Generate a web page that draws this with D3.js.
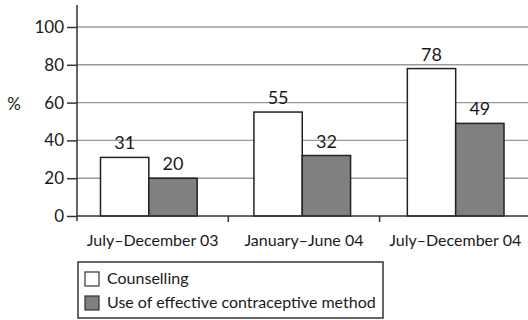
<!DOCTYPE html>
<html>
<head>
<meta charset="utf-8">
<script src="https://cdn.jsdelivr.net/npm/d3@7"></script>
<style>
  html, body { margin: 0; padding: 0; background: #fff; }
  svg { display: block; }
  text { font-family: Lato, "Open Sans", sans-serif; fill: #1a1a1a; }
</style>
</head>
<body>
<svg id="chart" width="528" height="320"></svg>
<script>
// Periods, series and values
const categories = ["July\u2013December 03", "January\u2013June 04", "July\u2013December 04"];
const seriesNames = ["Counselling", "Use of effective contraceptive method"];
const counselling = [31, 55, 78];
const contraceptive = [20, 32, 49];
const yTicks = [0, 20, 40, 60, 80, 100];
const seriesColors = ["#ffffff", "#808080"];

const svg = d3.select("#chart");
const W = 528;
const plotLeft = 77, plotTop = 5, plotBottom = 216;

const y = d3.scaleLinear().domain([0, 100]).range([plotBottom, 27]);
// Axis bands (tick marks and labels)
const xAxisBand = d3.scaleBand().domain(categories).range([plotLeft, plotLeft + 3 * 151.3]).padding(0);
// Bar-group bands
const xGroup = d3.scaleBand().domain(categories).range([100.5, 504])
  .paddingInner(0.37).paddingOuter(0);
const x1 = d3.scaleBand().domain(seriesNames).range([0, xGroup.bandwidth()]).padding(0);

// Horizontal grid
svg.append("g")
  .selectAll("line")
  .data(yTicks.filter(d => d > 0))
  .join("line")
  .attr("x1", plotLeft).attr("x2", W)
  .attr("y1", d => y(d)).attr("y2", d => y(d))
  .attr("stroke", "#999").attr("stroke-width", 1.4);

// Bars
const rows = categories.map((c, i) => ({ cat: c, vals: [counselling[i], contraceptive[i]] }));
const groups = svg.append("g").selectAll("g")
  .data(rows).join("g")
  .attr("transform", d => `translate(${xGroup(d.cat)},0)`);

groups.selectAll("rect")
  .data(d => d.vals.map((v, j) => ({ v, s: seriesNames[j], j })))
  .join("rect")
  .attr("x", d => x1(d.s))
  .attr("y", d => y(d.v))
  .attr("width", x1.bandwidth())
  .attr("height", d => plotBottom - y(d.v))
  .attr("fill", d => seriesColors[d.j])
  .attr("stroke", "#222")
  .attr("stroke-width", 1.5);

groups.selectAll("text.val")
  .data(d => d.vals.map((v, j) => ({ v, s: seriesNames[j] })))
  .join("text")
  .attr("class", "val")
  .attr("x", d => x1(d.s) + x1.bandwidth() / 2)
  .attr("y", d => y(d.v) - 8)
  .attr("text-anchor", "middle")
  .attr("font-size", 18)
  .text(d => d.v);

// Y axis
const yAxis = d3.axisLeft(y).tickValues(yTicks).tickSize(10).tickPadding(3);
const gy = svg.append("g").attr("transform", `translate(${plotLeft},0)`).call(yAxis);
gy.select(".domain").remove();
gy.selectAll(".tick line").attr("stroke", "#333").attr("stroke-width", 1.5);
gy.selectAll(".tick text").attr("font-size", 17).attr("fill", "#1a1a1a")
  .style("font-family", "Lato, 'Open Sans', sans-serif");
svg.append("line")
  .attr("x1", plotLeft).attr("x2", plotLeft).attr("y1", plotTop).attr("y2", plotBottom + 5)
  .attr("stroke", "#333").attr("stroke-width", 1.5);

// X axis
svg.append("line")
  .attr("x1", plotLeft).attr("x2", W).attr("y1", plotBottom).attr("y2", plotBottom)
  .attr("stroke", "#333").attr("stroke-width", 1.5);
svg.append("g").selectAll("line")
  .data(categories.slice(1))
  .join("line")
  .attr("x1", d => xAxisBand(d)).attr("x2", d => xAxisBand(d))
  .attr("y1", plotBottom).attr("y2", plotBottom + 6)
  .attr("stroke", "#333").attr("stroke-width", 1.5);
svg.append("g").selectAll("text")
  .data(categories)
  .join("text")
  .attr("x", d => xAxisBand(d) + xAxisBand.bandwidth() / 2)
  .attr("y", 246)
  .attr("text-anchor", "middle")
  .attr("font-size", 16)
  .text(d => d);

// Y label
svg.append("text")
  .attr("x", 14).attr("y", 110)
  .attr("text-anchor", "middle")
  .attr("font-size", 17)
  .text("%");

// Legend
const lg = svg.append("g");
lg.append("rect")
  .attr("x", 78).attr("y", 262).attr("width", 305).attr("height", 56)
  .attr("fill", "#fff").attr("stroke", "#333").attr("stroke-width", 1.5);
const items = lg.selectAll("g.item")
  .data(seriesNames)
  .join("g")
  .attr("class", "item")
  .attr("transform", (d, i) => `translate(85,${272 + i * 24})`);
items.append("rect")
  .attr("width", 14).attr("height", 14)
  .attr("fill", (d, i) => seriesColors[i])
  .attr("stroke", "#333").attr("stroke-width", 1.2);
items.append("text")
  .attr("x", 22).attr("y", 12)
  .attr("font-size", 16)
  .text(d => d);
</script>
</body>
</html>
